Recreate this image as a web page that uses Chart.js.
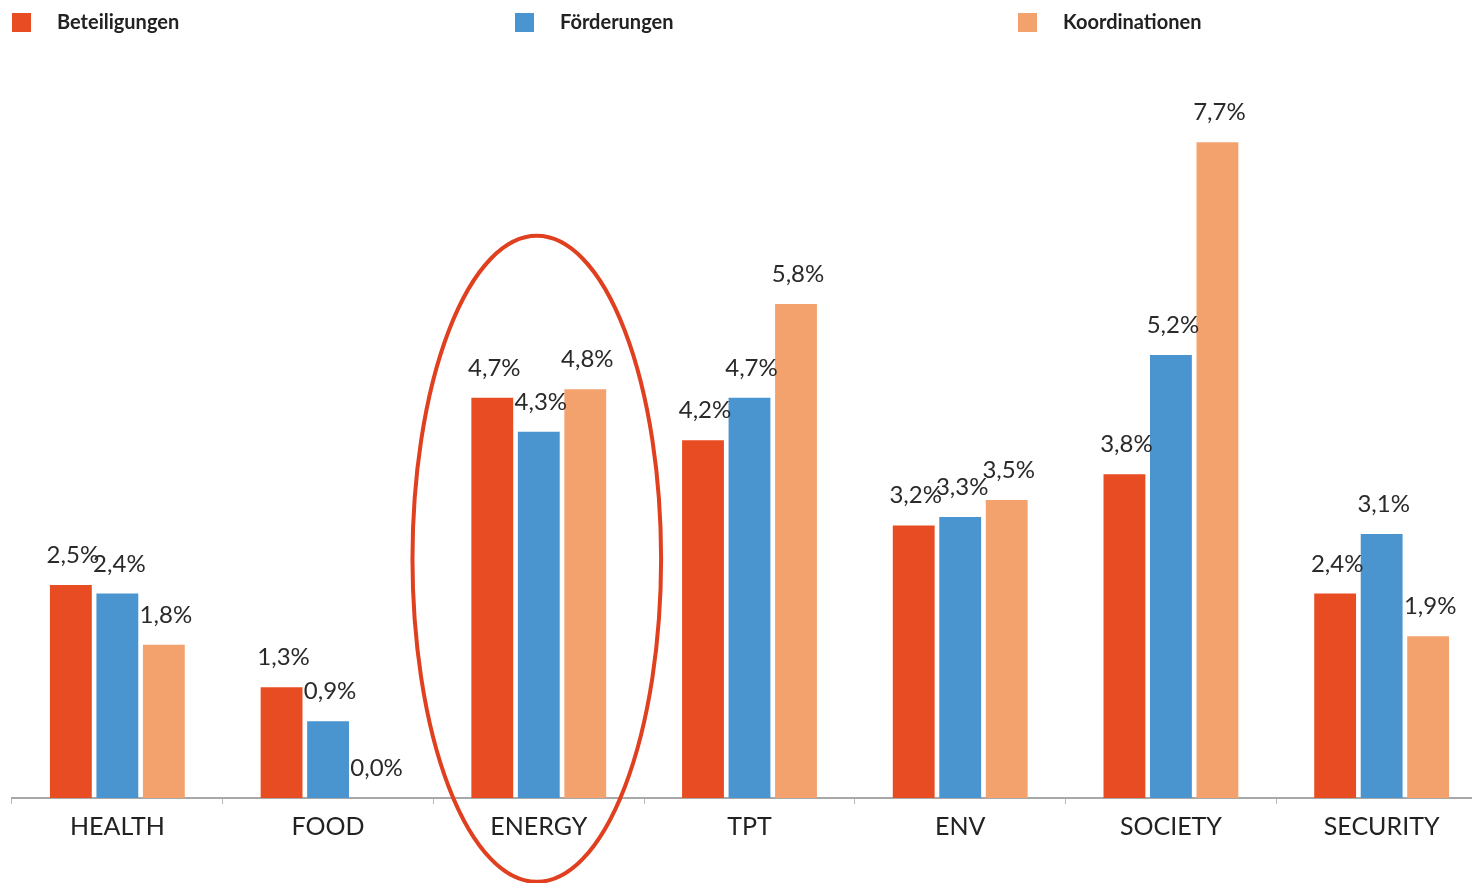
<!DOCTYPE html>
<html>
<head>
<meta charset="utf-8">
<script src="https://cdn.jsdelivr.net/npm/chart.js@4"></script>
<style>
  html, body { margin: 0; padding: 0; background: #fff; overflow: hidden; }
  #wrap { position: relative; width: 1490px; height: 883px; }
</style>
</head>
<body>
<div id="wrap"><canvas id="chart"></canvas></div>
<script>
// ===== Data =====
const categories = ['HEALTH', 'FOOD', 'ENERGY', 'TPT', 'ENV', 'SOCIETY', 'SECURITY'];
const seriesNames = ['Beteiligungen', 'Förderungen', 'Koordinationen'];
const beteiligungen = [2.5, 1.3, 4.7, 4.2, 3.2, 3.8, 2.4];
const foerderungen = [2.4, 0.9, 4.3, 4.7, 3.3, 5.2, 3.1];
const koordinationen = [1.8, 0.0, 4.8, 5.8, 3.5, 7.7, 1.9];
const colors = ['#E84C22', '#4A94D0', '#F3A26E'];
const highlightIndex = 2; // ENERGY is circled

const FONT = 'Lato, "Open Sans", sans-serif';
const fmt = v => v.toFixed(1).replace('.', ',') + '%';

// legend drawn at fixed spots across the top
const legendPlugin = {
  id: 'topLegend',
  afterDraw(chart) {
    const ctx = chart.ctx;
    const xs = [12, 515, 1018];
    ctx.save();
    seriesNames.forEach((name, i) => {
      ctx.fillStyle = colors[i];
      ctx.fillRect(xs[i], 13, 19, 19);
      ctx.fillStyle = '#222';
      ctx.font = 'bold 20px ' + FONT;
      ctx.textBaseline = 'middle';
      ctx.textAlign = 'left';
      ctx.fillText(name, xs[i] + 45, 23);
    });
    ctx.restore();
  }
};

// value labels above bars
const valueLabels = {
  id: 'valueLabels',
  afterDatasetsDraw(chart) {
    const ctx = chart.ctx;
    ctx.save();
    ctx.font = '24px ' + FONT;
    ctx.fillStyle = '#2a2a2a';
    ctx.textAlign = 'center';
    ctx.textBaseline = 'alphabetic';
    chart.data.datasets.forEach((ds, di) => {
      chart.getDatasetMeta(di).data.forEach((bar, i) => {
        ctx.fillText(fmt(ds.data[i]), bar.x + 2, bar.y - 22);
      });
    });
    ctx.restore();
  }
};

// red ellipse around the highlighted category
const ellipsePlugin = {
  id: 'ellipse',
  afterDraw(chart) {
    const x = chart.scales.x, y = chart.scales.y;
    const cw = x.getPixelForValue(1) - x.getPixelForValue(0);
    const cx = x.getPixelForValue(highlightIndex);
    const top = y.getPixelForValue(6.6);
    const ry = 323;
    const ctx = chart.ctx;
    ctx.save();
    ctx.strokeStyle = '#E0401F';
    ctx.lineWidth = 4;
    ctx.beginPath();
    ctx.ellipse(cx - 2, top + ry, cw * 0.59, ry, 0, 0, Math.PI * 2);
    ctx.stroke();
    ctx.restore();
  }
};

const seriesData = [beteiligungen, foerderungen, koordinationen];

new Chart(document.getElementById('chart'), {
  type: 'bar',
  data: {
    labels: categories,
    datasets: seriesData.map((d, i) => ({
      label: seriesNames[i],
      data: d,
      backgroundColor: colors[i],
      borderWidth: 0,
      categoryPercentage: 0.662,
      barPercentage: 0.9
    }))
  },
  options: {
    responsive: true,
    maintainAspectRatio: false,
    animation: false,
    layout: { padding: { top: 74, bottom: 33, left: 12, right: 3 } },
    plugins: {
      legend: { display: false },
      tooltip: { enabled: false }
    },
    scales: {
      y: { display: false, min: 0, max: 8.5 },
      x: {
        border: { display: true, color: '#A8A8A8', width: 2 },
        grid: { display: true, drawOnChartArea: false, drawTicks: true, tickLength: 6, color: '#BBBBBB', offset: true },
        ticks: { color: '#222', font: { family: FONT, size: 25 }, padding: 8 }
      }
    }
  },
  plugins: [legendPlugin, valueLabels, ellipsePlugin]
});
</script>
</body>
</html>
